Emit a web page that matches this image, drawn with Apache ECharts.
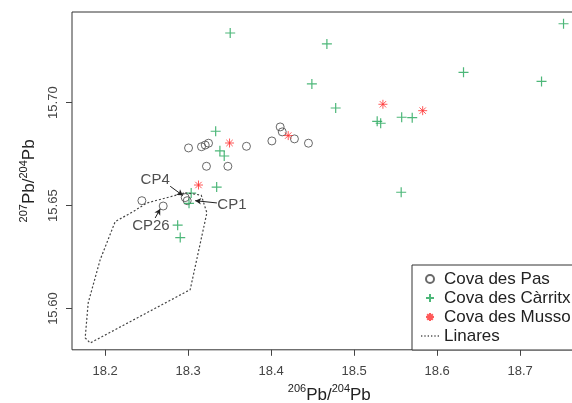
<!DOCTYPE html>
<html>
<head>
<meta charset="utf-8">
<script src="https://cdn.jsdelivr.net/npm/echarts@6/dist/echarts.min.js"></script>
<style>html,body{margin:0;padding:0;background:#fff}#c{width:572px;height:403px}</style>
</head>
<body>
<div id="c"></div>
<script>
// ---- data ----
const pasX = [18.3004,18.3160,18.3205,18.3245,18.3702,18.3220,18.3478,18.2964,18.2988,18.2442,18.2699,18.4008,18.4108,18.4133,18.4280,18.4449];
const pasY = [15.6780,15.6786,15.6794,15.6803,15.6788,15.6691,15.6691,15.6539,15.6524,15.6524,15.6498,15.6814,15.6882,15.6858,15.6824,15.6803];
const carX = [18.3506,18.4671,18.4490,18.4777,18.5277,18.5319,18.5572,18.5699,18.5566,18.6317,18.7257,18.7522,18.3331,18.3382,18.3434,18.3343,18.3036,18.3010,18.2873,18.2904];
const carY = [15.7338,15.7285,15.7091,15.6974,15.6909,15.6900,15.6929,15.6927,15.6565,15.7147,15.7103,15.7383,15.6861,15.6766,15.6741,15.6590,15.6561,15.6511,15.6405,15.6345];
const musX = [18.3498,18.3124,18.4205,18.5346,18.5825];
const musY = [15.6804,15.6600,15.6840,15.6992,15.6961];
const linX = [18.2964,18.3157,18.3225,18.3024,18.1819,18.1759,18.1795,18.1940,18.2120,18.2341,18.2502,18.2964];
const linY = [15.6562,15.6551,15.6465,15.6092,15.5833,15.5858,15.6028,15.6238,15.6422,15.6472,15.6513,15.6562];
const annNames = ['CP4','CP1','CP26'];
const annLabelX = [18.2602,18.3527,18.2551];
const annLabelY = [15.6626,15.6505,15.6403];
const annFromX = [18.2783,18.3346,18.2602];
const annFromY = [15.6594,15.6513,15.6440];
const annToX = [18.2936,18.3084,18.2663];
const annToY = [15.6549,15.6524,15.6484];
const xTicks = [18.2,18.3,18.4,18.5,18.6,18.7];
const yTicks = [15.60,15.65,15.70];
const seriesNames = ['Cova des Pas','Cova des Càrritx','Cova des Musso','Linares'];

const zip = (a,b) => a.map((v,i)=>[v,b[i]]);
const FONT = 'Liberation Sans, Arial, sans-serif';
const GREEN = '#20a558';
const RED = '#ff3030';
const plusPath = 'path://M0,5L10,5M5,0L5,10';
const starPath = 'path://M0,5L10,5M5,0L5,10M1.46,1.46L8.54,8.54M1.46,8.54L8.54,1.46';
const dotLinePath = 'path://M0,0h1.2v1.2h-1.2zM3,0h1.2v1.2h-1.2zM6,0h1.2v1.2h-1.2zM9,0h1.2v1.2h-1.2zM12,0h1.2v1.2h-1.2zM15,0h1.2v1.2h-1.2z';

const chart = echarts.init(document.getElementById('c'), null, {renderer:'canvas'});
chart.setOption({
  animation: false,
  backgroundColor: '#fff',
  grid: {left: 72, top: 12, width: 514.6, height: 337.8, show: true, borderColor: '#333', borderWidth: 1,
         containLabel: false, outerBoundsMode: 'none'},
  xAxis: {
    type: 'value', min: 18.16, max: 18.78,
    name: '{s|206}{b|Pb/}{s|204}{b|Pb}', nameLocation: 'middle', nameGap: 34,
    nameTextStyle: {fontFamily: FONT, color: '#222', rich: {
      s: {fontSize: 11, fontFamily: FONT, color:'#222', verticalAlign: 'top', lineHeight: 12},
      b: {fontSize: 17, fontFamily: FONT, color:'#222', verticalAlign: 'bottom', lineHeight: 20}}},
    axisLine: {show: false},
    axisTick: {show: true, length: 6, customValues: xTicks, lineStyle: {color: '#444'}},
    axisLabel: {customValues: xTicks, formatter: v => v.toFixed(1), margin: 15, fontSize: 13, fontFamily: FONT, color: '#444'},
    splitLine: {show: false}
  },
  yAxis: {
    type: 'value', min: 15.58, max: 15.744,
    name: '{s|207}{b|Pb/}{s|204}{b|Pb}', nameLocation: 'middle', nameGap: 34, nameRotate: 90,
    nameTextStyle: {fontFamily: FONT, color: '#222', rich: {
      s: {fontSize: 11, fontFamily: FONT, color:'#222', verticalAlign: 'top', lineHeight: 12},
      b: {fontSize: 17, fontFamily: FONT, color:'#222', verticalAlign: 'bottom', lineHeight: 20}}},
    axisLine: {show: false},
    axisTick: {show: true, length: 6, customValues: yTicks, lineStyle: {color: '#444'}},
    axisLabel: {customValues: yTicks, formatter: v => v.toFixed(2), rotate: 90, margin: 12, fontSize: 13, fontFamily: FONT, color: '#444'},
    splitLine: {show: false}
  },
  legend: {
    orient: 'vertical', left: 412, top: 265,
    data: [
      {name: seriesNames[0]},
      {name: seriesNames[1]},
      {name: seriesNames[2]},
      {name: seriesNames[3], icon: dotLinePath, itemStyle: {color: '#555', borderWidth: 0}}
    ],
    backgroundColor: '#fff', borderColor: '#333', borderWidth: 1,
    padding: [4.5, 40, 4.5, 9], itemGap: 0, itemWidth: 18, itemHeight: 8,
    textStyle: {fontSize: 17, fontFamily: FONT, color: '#222', lineHeight: 19},
    selectedMode: false
  },
  series: [
    {name: seriesNames[0], type: 'scatter', data: zip(pasX, pasY), symbol: 'circle', symbolSize: 8,
     itemStyle: {color: 'rgba(0,0,0,0)', borderColor: '#444', borderWidth: 1}},
    {name: seriesNames[1], type: 'scatter', data: zip(carX, carY), symbol: plusPath, symbolSize: 10,
     itemStyle: {color: 'rgba(0,0,0,0)', borderColor: GREEN, borderWidth: 1.2}},
    {name: seriesNames[2], type: 'scatter', data: zip(musX, musY), symbol: starPath, symbolSize: 9,
     itemStyle: {color: 'rgba(0,0,0,0)', borderColor: RED, borderWidth: 1}},
    {name: seriesNames[3], type: 'line', data: zip(linX, linY), symbol: 'none', smooth: false,
     itemStyle: {color: '#555'},
     lineStyle: {color: '#444', width: 1.2, type: [2, 2]}},
    {name: 'annotations', type: 'scatter', data: zip(annLabelX, annLabelY).map((p,i)=>({value: p, name: annNames[i]})),
     symbolSize: 0, silent: true,
     label: {show: true, position: 'inside', formatter: p => p.name, fontSize: 15, fontFamily: FONT, color: '#222'},
     markLine: {silent: true, symbol: ['none','arrow'], symbolSize: [5, 6], label: {show: false},
       lineStyle: {color: '#222', width: 1, type: 'solid'},
       data: annNames.map((n,i)=>[{coord: [annFromX[i], annFromY[i]]}, {coord: [annToX[i], annToY[i]]}])}}
  ]
});
</script>
</body>
</html>
